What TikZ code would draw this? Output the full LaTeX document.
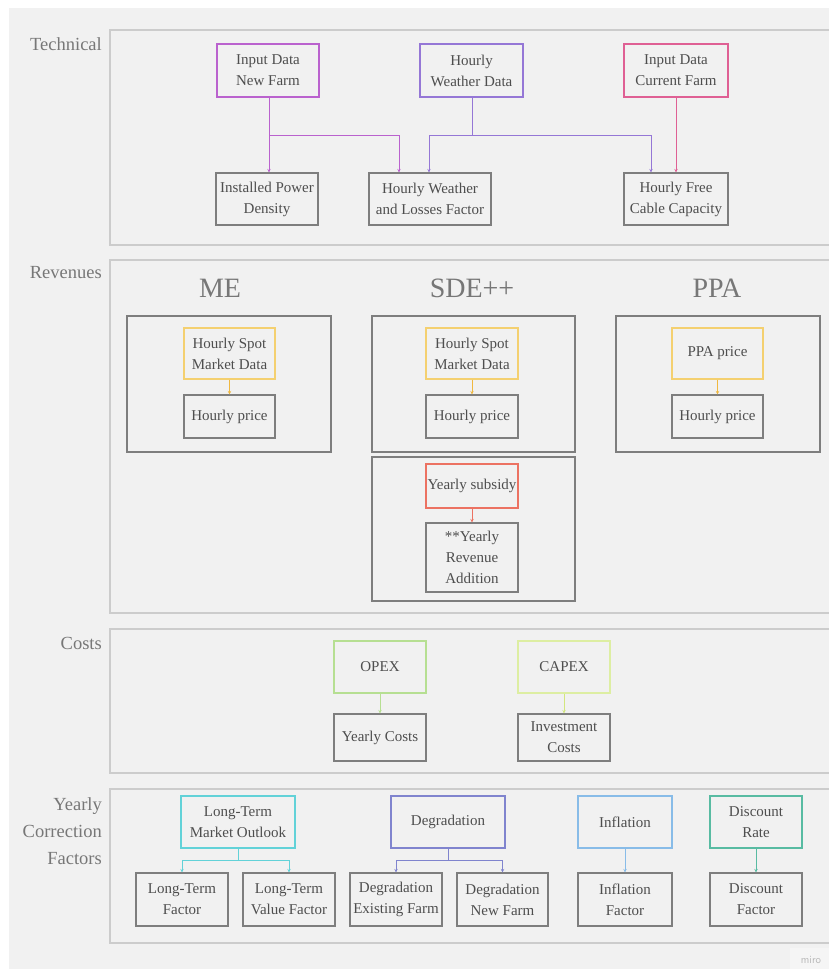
\documentclass[tikz,border=0pt]{standalone}
\usepackage{fontspec}
\setmainfont{Liberation Serif}
\usetikzlibrary{arrows.meta,calc}

\definecolor{bg}{HTML}{F1F1F1}
\definecolor{secline}{HTML}{CCCCCC}
\definecolor{boxline}{HTML}{7E7E7E}
\definecolor{txt}{HTML}{4E4E4E}
\definecolor{labtxt}{HTML}{777777}
\definecolor{cNew}{HTML}{BA62CE}
\definecolor{cWeather}{HTML}{9577D6}
\definecolor{cCurrent}{HTML}{DF6094}
\definecolor{cSpot}{HTML}{F4D070}
\definecolor{cSpotArr}{HTML}{F0B840}
\definecolor{cSubsidy}{HTML}{EC7262}
\definecolor{cOpex}{HTML}{B6DF92}
\definecolor{cCapex}{HTML}{DDEEA2}
\definecolor{cCapexArr}{HTML}{D2E67E}
\definecolor{cOutlook}{HTML}{62D2D8}
\definecolor{cDegr}{HTML}{8084CE}
\definecolor{cInfl}{HTML}{88BCE8}
\definecolor{cDisc}{HTML}{58BBA2}

\begin{document}
\begin{tikzpicture}[x=1pt,y=-1pt,
  section/.style={draw=secline, line width=1.5pt},
  seclab/.style={anchor=east, align=right, text=labtxt, inner sep=0pt,
    font=\fontsize{18.5}{27}\selectfont},
  title/.style={text=labtxt, inner sep=0pt, font=\fontsize{28}{30}\selectfont},
  container/.style={draw=boxline, line width=1.1pt},
  nbox/.style={draw=boxline, line width=1.1pt, text=txt, align=center,
    inner sep=0pt, font=\fontsize{15}{21}\selectfont},
  cbox/.style={nbox, line width=1.2pt},
  arr/.style={line width=1pt, -{Stealth[length=3.5pt,width=3.5pt]}},
  link/.style={line width=1pt}]

\useasboundingbox (0,0) rectangle (829,970);
\fill[white] (0,0) rectangle (829,970);
\fill[bg] (9,8) rectangle (829,969);

% ---------- section frames (open to the right) ----------
\draw[section] (110,30) rectangle (840,245);
\draw[section] (110,260) rectangle (840,613);
\draw[section] (110,629) rectangle (840,773);
\draw[section] (110,789) rectangle (840,943);

\node[seclab] (labTech) at (102,44) {Technical};
\node[seclab] (labRev) at (102,273) {Revenues};
\node[seclab] (labCost) at (102,643) {Costs};
\node[seclab] (labCorr) at (102,831) {Yearly\\Correction\\Factors};

% ---------- Technical ----------
\node[cbox, draw=cNew, minimum width=102pt, minimum height=53pt] (nf) at (268,70.5) {Input Data\\New Farm};
\node[cbox, draw=cWeather, minimum width=103pt, minimum height=53pt] (hwd) at (471.5,70.5) {Hourly\\Weather Data};
\node[cbox, draw=cCurrent, minimum width=104pt, minimum height=53pt] (cf) at (676,70.5) {Input Data\\Current Farm};

\node[nbox, minimum width=102pt, minimum height=52pt] (ipd) at (267,199) {Installed Power\\Density};
\node[nbox, minimum width=122pt, minimum height=52pt] (hwl) at (430,199) {Hourly Weather\\and Losses Factor};
\node[nbox, minimum width=104pt, minimum height=52pt] (fcc) at (676,199) {Hourly Free\\Cable Capacity};

\coordinate (nfj) at ($(nf.south)+(1,38)$);
\coordinate (hwj) at ($(hwd.south)+(0.5,38)$);
\draw[link, cNew] (nf.south -| nfj) -- (nfj);
\draw[arr, cNew] (nfj) -- (nfj |- ipd.north);
\draw[arr, cNew] (nfj) -| ([xshift=-31pt]hwl.north);
\draw[link, cWeather] (hwd.south -| hwj) -- (hwj);
\draw[arr, cWeather] (hwj) -| ([xshift=-1pt]hwl.north);
\draw[arr, cWeather] (hwj) -| ([xshift=-25pt]fcc.north);
\draw[arr, cCurrent] (cf.south) -- (fcc.north);

% ---------- Revenues ----------
\node[title] (tME) at (220,288) {ME};
\node[title] (tSDE) at (472,288) {SDE++};
\node[title] (tPPA) at (717,288) {PPA};

\draw[container] (127,316) rectangle (331,452);
\draw[container] (372,316) rectangle (575,452);
\draw[container] (616,316) rectangle (820,452);
\draw[container] (372,457) rectangle (575,601);

\node[cbox, draw=cSpot, minimum width=91pt, minimum height=51pt] (spME) at (229.5,353.5) {Hourly Spot\\Market Data};
\node[nbox, minimum width=91pt, minimum height=43pt] (hpME) at (229.5,416.5) {Hourly price};
\node[cbox, draw=cSpot, minimum width=92pt, minimum height=51pt] (spSDE) at (472,353.5) {Hourly Spot\\Market Data};
\node[nbox, minimum width=92pt, minimum height=43pt] (hpSDE) at (472,416.5) {Hourly price};
\node[cbox, draw=cSpot, minimum width=91pt, minimum height=51pt] (ppa) at (717.5,353.5) {PPA price};
\node[nbox, minimum width=91pt, minimum height=43pt] (hpPPA) at (717.5,416.5) {Hourly price};
\node[cbox, draw=cSubsidy, minimum width=92pt, minimum height=44pt] (sub) at (472,486) {Yearly subsidy};
\node[nbox, minimum width=92pt, minimum height=69pt] (add) at (472,557.5) {**Yearly\\Revenue\\Addition};

\draw[arr, cSpotArr] (spME) -- (hpME);
\draw[arr, cSpotArr] (spSDE) -- (hpSDE);
\draw[arr, cSpotArr] (ppa) -- (hpPPA);
\draw[arr, cSubsidy] (sub) -- (add);

% ---------- Costs ----------
\node[cbox, draw=cOpex, minimum width=92pt, minimum height=52pt] (opex) at (380,667) {OPEX};
\node[nbox, minimum width=92pt, minimum height=47pt] (yc) at (380,737.5) {Yearly Costs};
\node[cbox, draw=cCapex, minimum width=92pt, minimum height=52pt] (capex) at (564,667) {CAPEX};
\node[nbox, minimum width=92pt, minimum height=47pt] (ic) at (564,737.5) {Investment\\Costs};

\draw[arr, cOpex] (opex) -- (yc);
\draw[arr, cCapexArr] (capex) -- (ic);

% ---------- Yearly correction factors ----------
\node[cbox, draw=cOutlook, minimum width=114pt, minimum height=52pt] (lto) at (238,822) {Long-Term\\Market Outlook};
\node[cbox, draw=cDegr, minimum width=114pt, minimum height=52pt] (deg) at (448,822) {Degradation};
\node[cbox, draw=cInfl, minimum width=94pt, minimum height=52pt] (inf) at (625,822) {Inflation};
\node[cbox, draw=cDisc, minimum width=92pt, minimum height=52pt] (dr) at (756,822) {Discount\\Rate};

\node[nbox, minimum width=92pt, minimum height=53pt] (ltf) at (182,899.5) {Long-Term\\Factor};
\node[nbox, minimum width=92pt, minimum height=53pt] (ltv) at (289,899.5) {Long-Term\\Value Factor};
\node[nbox, minimum width=92pt, minimum height=53pt] (dex) at (396,899.5) {Degradation\\Existing Farm};
\node[nbox, minimum width=91pt, minimum height=53pt] (dnf) at (502.5,899.5) {Degradation\\New Farm};
\node[nbox, minimum width=94pt, minimum height=53pt] (inff) at (625,899.5) {Inflation\\Factor};
\node[nbox, minimum width=92pt, minimum height=53pt] (dfac) at (756,899.5) {Discount\\Factor};

\coordinate (ltj) at ($(lto.south)+(0,12)$);
\coordinate (dgj) at ($(deg.south)+(0,12)$);
\draw[link, cOutlook] (lto.south) -- (ltj);
\draw[arr, cOutlook] (ltj) -| (ltf.north);
\draw[arr, cOutlook] (ltj) -| (ltv.north);
\draw[link, cDegr] (deg.south) -- (dgj);
\draw[arr, cDegr] (dgj) -| (dex.north);
\draw[arr, cDegr] (dgj) -| (dnf.north);
\draw[arr, cInfl] (inf) -- (inff);
\draw[arr, cDisc] (dr) -- (dfac);

% ---------- board watermark ----------
\fill[white, opacity=0.35] (790,948) rectangle (829,970);
\node[text=black!28, inner sep=0pt, font=\sffamily\fontsize{11}{11}\selectfont] (miro) at (811,960) {miro};

\end{tikzpicture}
\end{document}
